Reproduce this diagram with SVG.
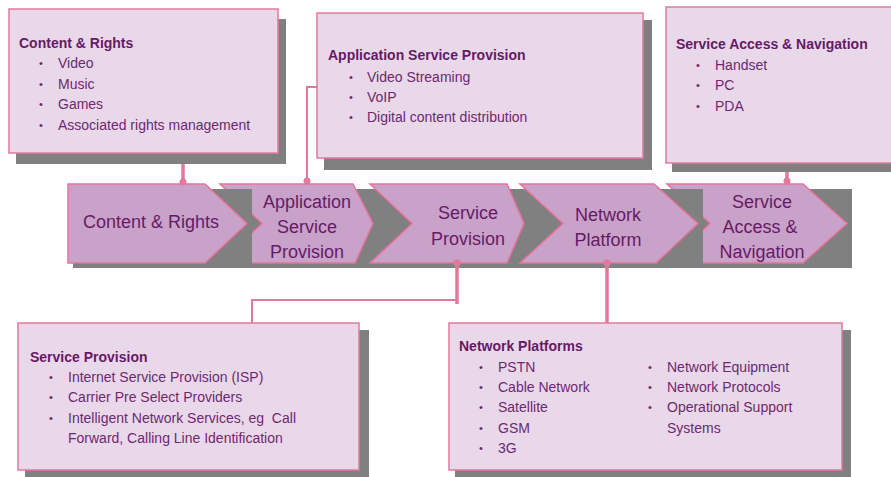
<svg xmlns="http://www.w3.org/2000/svg" width="891" height="477" viewBox="0 0 891 477">
  <style>
    .box { fill: #e9d8e9; stroke: #e07a9c; stroke-width: 1.5; }
    .shadow { fill: #808080; }
    .chev { fill: #c9a2c9; stroke: #e6739a; stroke-width: 1.5; stroke-linejoin: miter; }
    .title { font-family: "Liberation Sans", Arial, sans-serif; font-size: 14px; font-weight: bold; fill: #661a66; }
    .item { font-family: "Liberation Sans", Arial, sans-serif; font-size: 14px; fill: #6e2870; white-space: pre; }
    .bul { font-family: "Liberation Sans", Arial, sans-serif; font-size: 11px; fill: #6e2870; text-anchor: middle; }
    .ctext { font-family: "Liberation Sans", Arial, sans-serif; font-size: 18px; fill: #661a66; text-anchor: middle; }
    .wire { fill: none; stroke: #e07a9c; stroke-linecap: butt; }
    .thin { stroke-width: 2; }
    .thick { stroke-width: 3.5; }
    .dot { fill: #e07a9c; }
  </style>

  <rect width="891" height="477" fill="#ffffff"/>

  <!-- Detail boxes -->
  <g id="box-content-rights">
    <rect class="shadow" x="16" y="19" width="270" height="145"/>
    <rect class="box" x="9" y="9" width="269" height="144"/>
    <text class="title" x="19" y="48">Content &amp; Rights</text>
    <text class="bul" x="41" y="67">•</text><text class="item" x="58" y="68">Video</text>
    <text class="bul" x="41" y="87.5">•</text><text class="item" x="58" y="88.5">Music</text>
    <text class="bul" x="41" y="108">•</text><text class="item" x="58" y="109">Games</text>
    <text class="bul" x="41" y="128.5">•</text><text class="item" x="58" y="129.5">Associated rights management</text>
  </g>

  <g id="box-application-service">
    <rect class="shadow" x="324" y="20" width="328" height="150"/>
    <rect class="box" x="317" y="13" width="326" height="145"/>
    <text class="title" x="328" y="60">Application Service Provision</text>
    <text class="bul" x="351" y="80.5">•</text><text class="item" x="367" y="81.5">Video Streaming</text>
    <text class="bul" x="351" y="100.5">•</text><text class="item" x="367" y="101.5">VoIP</text>
    <text class="bul" x="351" y="121">•</text><text class="item" x="367" y="122">Digital content distribution</text>
  </g>

  <g id="box-service-access">
    <rect class="shadow" x="672" y="14" width="240" height="158"/>
    <rect class="box" x="666" y="7" width="240" height="156"/>
    <text class="title" x="676" y="49">Service Access &amp; Navigation</text>
    <text class="bul" x="698" y="68.5">•</text><text class="item" x="715" y="69.5">Handset</text>
    <text class="bul" x="698" y="89">•</text><text class="item" x="715" y="90">PC</text>
    <text class="bul" x="698" y="109.5">•</text><text class="item" x="715" y="110.5">PDA</text>
  </g>

  <g id="box-service-provision">
    <rect class="shadow" x="25" y="330" width="344" height="150"/>
    <rect class="box" x="18" y="323" width="341" height="147"/>
    <text class="title" x="30" y="361.5">Service Provision</text>
    <text class="bul" x="51" y="380.5">•</text><text class="item" x="68" y="381.5">Internet Service Provision (ISP)</text>
    <text class="bul" x="51" y="400.5">•</text><text class="item" x="68" y="401.5">Carrier Pre Select Providers</text>
    <text class="bul" x="51" y="421.5">•</text><text class="item" x="68" y="422.5">Intelligent Network Services, eg  Call</text>
    <text class="item" x="68" y="442.5">Forward, Calling Line Identification</text>
  </g>

  <g id="box-network-platforms">
    <rect class="shadow" x="455" y="330" width="396" height="150"/>
    <rect class="box" x="449" y="323" width="393" height="147"/>
    <text class="title" x="459" y="351">Network Platforms</text>
    <text class="bul" x="481" y="370.5">•</text><text class="item" x="498" y="371.5">PSTN</text>
    <text class="bul" x="481" y="391">•</text><text class="item" x="498" y="392">Cable Network</text>
    <text class="bul" x="481" y="411.3">•</text><text class="item" x="498" y="412.3">Satellite</text>
    <text class="bul" x="481" y="431.7">•</text><text class="item" x="498" y="432.7">GSM</text>
    <text class="bul" x="481" y="452">•</text><text class="item" x="498" y="453">3G</text>
    <text class="bul" x="650" y="370.5">•</text><text class="item" x="667" y="371.5">Network Equipment</text>
    <text class="bul" x="650" y="391">•</text><text class="item" x="667" y="392">Network Protocols</text>
    <text class="bul" x="650" y="411.3">•</text><text class="item" x="667" y="412.3">Operational Support</text>
    <text class="item" x="667" y="432.7">Systems</text>
  </g>

  <!-- Value chain chevrons (each with a bounding-box shadow) -->
  <g id="chevron-application-service">
    <rect class="shadow" x="225" y="189" width="153" height="79"/>
    <polygon class="chev" points="220,184 353,184 373,223.5 355,263 220,263 262,223.5"/>
    <text class="ctext" x="307" y="208">Application</text>
    <text class="ctext" x="307" y="233">Service</text>
    <text class="ctext" x="307" y="258">Provision</text>
  </g>

  <g id="chevron-content-rights">
    <rect class="shadow" x="73" y="189" width="179" height="79"/>
    <polygon class="chev" points="68,184 205,184 247,223.5 205,263 68,263"/>
    <text class="ctext" x="151" y="228">Content &amp; Rights</text>
  </g>

  <g id="chevron-service-provision">
    <rect class="shadow" x="375" y="189" width="154" height="79"/>
    <polygon class="chev" points="370,184 507,184 524,223.5 507,263 370,263 412,223.5"/>
    <text class="ctext" x="468" y="219">Service</text>
    <text class="ctext" x="468" y="245">Provision</text>
  </g>

  <g id="chevron-service-access">
    <rect class="shadow" x="672" y="189" width="180" height="79"/>
    <polygon class="chev" points="667,184 803,184 847,223.5 803,263 667,263 710,223.5"/>
    <text class="ctext" x="762" y="208">Service</text>
    <text class="ctext" x="760" y="233">Access &amp;</text>
    <text class="ctext" x="762" y="258">Navigation</text>
  </g>

  <g id="chevron-network-platform">
    <rect class="shadow" x="525" y="189" width="178" height="79"/>
    <polygon class="chev" points="520,184 654,184 698,223.5 656,263 520,263 563,223.5"/>
    <text class="ctext" x="608" y="221">Network</text>
    <text class="ctext" x="608" y="246">Platform</text>
  </g>

  <!-- Connectors -->
  <g id="connectors">
    <line class="wire thick" x1="183" y1="164" x2="183" y2="182"/>
    <circle class="dot" cx="183" cy="182" r="3.5"/>

    <polyline class="wire thin" points="317,87 307,87 307,181"/>
    <circle class="dot" cx="307" cy="181" r="3.5"/>

    <line class="wire thick" x1="787" y1="172" x2="787" y2="181"/>
    <circle class="dot" cx="787" cy="181" r="3.5"/>

    <line class="wire thick" x1="457" y1="263" x2="457" y2="304"/>
    <polyline class="wire thin" points="457,300 252,300 252,323"/>
    <circle class="dot" cx="457" cy="263" r="3.5"/>

    <line class="wire thick" x1="607" y1="263" x2="607" y2="323"/>
    <circle class="dot" cx="607" cy="263" r="3.5"/>
  </g>
</svg>
